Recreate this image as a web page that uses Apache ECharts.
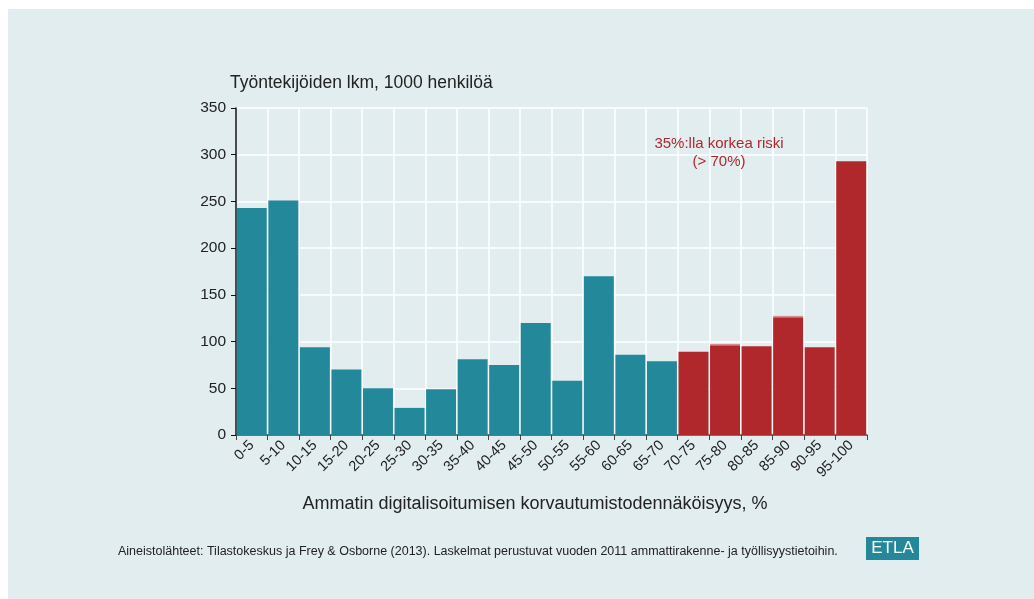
<!DOCTYPE html>
<html>
<head>
<meta charset="utf-8">
<script src="https://cdn.jsdelivr.net/npm/echarts@6/dist/echarts.min.js"></script>
<style>
  html, body { margin: 0; padding: 0; background: #ffffff; }
  #chart { width: 1034px; height: 599px; }
</style>
</head>
<body>
<div id="chart"></div>
<script>
const TEAL = "#23889a";
const RED = "#b0282c";
const PALE_RED = "#d88c8f";

const categories = ["0-5", "5-10", "10-15", "15-20", "20-25", "25-30", "30-35", "35-40", "40-45", "45-50",
  "50-55", "55-60", "60-65", "65-70", "70-75", "75-80", "80-85", "85-90", "90-95", "95-100"];
const workers = [243, 251, 94, 70, 50, 29, 49, 81, 75, 120, 58, 170, 86, 79, 89, 96, 95, 126, 94, 293];
const topEdge = [0, 0, 0, 0, 0, 0, 0, 0, 0, 0, 0, 0, 0, 0, 0, 1.5, 0, 1.5, 0, 0];
const highRiskFrom = 14;
const yTicks = { min: 0, max: 350, interval: 50 };

const chart = echarts.init(document.getElementById("chart"), null, { renderer: "canvas" });
const font = "Helvetica, 'Liberation Sans', Arial, sans-serif";

chart.setOption({
  animation: false,
  backgroundColor: "#ffffff",
  textStyle: { fontFamily: font },
  graphic: [
    { type: "rect", z: -10, shape: { x: 8, y: 9, width: 1026, height: 590 }, style: { fill: "#e2edef" } },
    { type: "text", z: 100, x: 230, y: 74, style: { text: "Työntekijöiden lkm, 1000 henkilöä", font: "17.5px " + font, fill: "#222" } },
    { type: "text", z: 100, x: 535, y: 495, style: { text: "Ammatin digitalisoitumisen korvautumistodennäköisyys, %", font: "18px " + font, fill: "#222", textAlign: "center" } },
    { type: "text", z: 100, x: 719, y: 135, style: { text: "35%:lla korkea riski\n(> 70%)", font: "15px " + font, lineHeight: 18, fill: RED, textAlign: "center" } },
    { type: "text", z: 100, x: 118, y: 545, style: { text: "Aineistolähteet: Tilastokeskus ja Frey & Osborne (2013). Laskelmat perustuvat vuoden 2011 ammattirakenne- ja työllisyystietoihin.", font: "12.5px " + font, fill: "#222" } },
    { type: "rect", z: 100, shape: { x: 866, y: 537, width: 53, height: 23 }, style: { fill: TEAL } },
    { type: "text", z: 101, x: 892.5, y: 540, style: { text: "ETLA", font: "17px " + font, fill: "#ffffff", textAlign: "center" } },
  ],
  grid: { left: 236, right: 167, top: 108, bottom: 164 },
  xAxis: {
    type: "category",
    data: categories,
    axisLine: { lineStyle: { color: "#444", width: 1.5 } },
    axisTick: { show: true, length: 5, lineStyle: { color: "#444" } },
    axisLabel: { rotate: 45, fontSize: 14.5, color: "#222", interval: 0, margin: 8 },
    splitLine: { show: true, lineStyle: { color: "#ffffff", width: 1.5 } },
  },
  yAxis: {
    type: "value",
    min: yTicks.min,
    max: yTicks.max,
    interval: yTicks.interval,
    axisLine: { show: true, lineStyle: { color: "#111", width: 1.5 } },
    axisTick: { show: true, length: 5, lineStyle: { color: "#111" } },
    axisLabel: { fontSize: 15.5, color: "#222", margin: 10 },
    splitLine: { show: true, lineStyle: { color: "#ffffff", width: 1.5 } },
  },
  series: [
    {
      type: "bar",
      stack: "total",
      barCategoryGap: "5%",
      data: workers.map((v, i) => ({ value: v, itemStyle: { color: i >= highRiskFrom ? RED : TEAL } })),
    },
    {
      type: "bar",
      stack: "total",
      data: topEdge,
      itemStyle: { color: PALE_RED },
    },
  ],
});
</script>
</body>
</html>
